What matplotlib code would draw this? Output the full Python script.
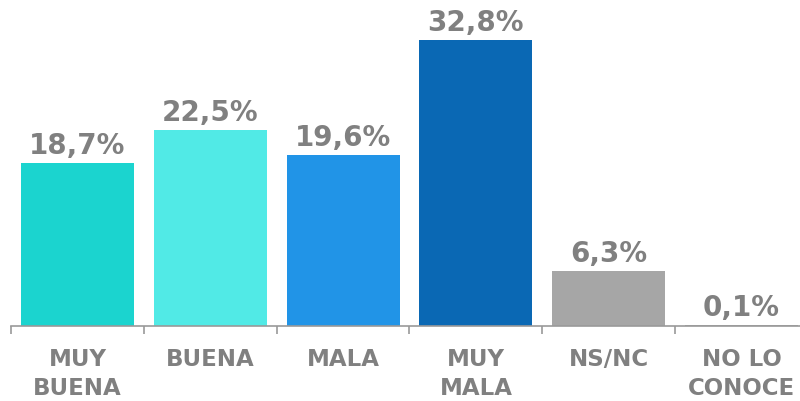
"""Barras de opinión con etiquetas de porcentaje"""
import matplotlib
matplotlib.use("Agg")
import matplotlib.pyplot as plt

categorias = ["MUY\nBUENA", "BUENA", "MALA", "MUY\nMALA", "NS/NC", "NO LO\nCONOCE"]
valores = [18.7, 22.5, 19.6, 32.8, 6.3, 0.1]
etiquetas = ["18,7%", "22,5%", "19,6%", "32,8%", "6,3%", "0,1%"]
colores = ["#1bd4cf", "#51eae6", "#2194e7", "#0a68b4", "#a6a6a6", "#a6a6a6"]

GRIS = "#808080"

plt.rcParams['font.family'] = ['DejaVu Sans']
fig = plt.figure(figsize=(8, 4.02), dpi=100)
ax = fig.add_axes([11 / 800, 75.5 / 402, 797 / 800, 326.5 / 402])

x = range(len(valores))
ax.bar(x, valores, width=0.85, color=colores)
ax.set_xlim(-0.5, len(valores) - 0.5)
ax.set_ylim(0, 37.57)

# etiquetas de valor encima de cada barra
for i, (v, t) in enumerate(zip(valores, etiquetas)):
    ax.annotate(t, (i, v), xytext=(0, 10), textcoords="offset pixels",
                ha="center", va="baseline", fontsize=20,
                fontweight="bold", color=GRIS)

# nombres de categoría debajo del eje
for i, c in enumerate(categorias):
    ax.annotate(c, (i, 0), xytext=(0, -22), textcoords="offset pixels",
                ha="center", va="top", fontsize=16.5, fontweight="bold",
                color=GRIS, linespacing=1.3)

for s in ["top", "right", "left"]:
    ax.spines[s].set_visible(False)
ax.spines["bottom"].set_color("#999999")
ax.spines["bottom"].set_linewidth(1.2)
ax.set_yticks([])
ax.set_xticks([i - 0.5 for i in range(len(valores) + 1)])
ax.set_xticklabels([])
ax.tick_params(axis="x", direction="out", length=6, width=1.2,
               color="#999999")

fig.savefig("out.png", dpi=100)
